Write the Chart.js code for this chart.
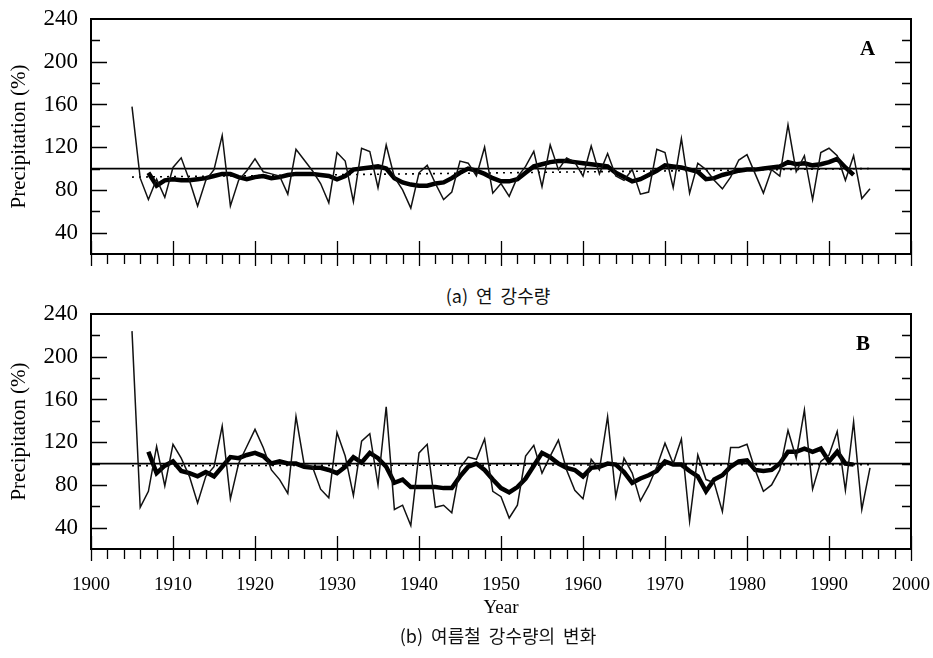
<!DOCTYPE html>
<html>
<head>
<meta charset="utf-8">
<script src="https://cdn.jsdelivr.net/npm/chart.js@4.4.1/dist/chart.umd.min.js"></script>
<style>
  html, body { margin: 0; padding: 0; background: #fff; }
  #wrap { position: relative; width: 933px; height: 658px; background: #fff; overflow: hidden; }
  canvas { position: absolute; left: 0; }
  .cap { position: absolute; left: 0; width: 996px; text-align: center; font-family: 'Noto Sans CJK KR', sans-serif; font-size: 18px; line-height: 24px; color: #111; word-spacing: 4px; }
  .lab { position: absolute; font-family: 'Liberation Serif', serif; font-weight: bold; font-size: 21px; line-height: 24px; color: #000; }
</style>
</head>
<body>
<div id="wrap">
  <canvas id="cA" width="933" height="270" style="top:0px"></canvas>
  <div class="lab" style="left:860px;top:36px">A</div>
  <div class="cap" style="top:283px">(a) 연 강수량</div>
  <canvas id="cB" width="933" height="345" style="top:290px"></canvas>
  <div class="lab" style="left:856px;top:331px">B</div>
  <div class="cap" style="top:623px">(b) 여름철 강수량의 변화</div>
</div>
<script>
// ---------- data ----------
const firstYear = 1905;       // first year of annual series
const firstAvgYear = 1907;    // first year of 5-year moving average
const xTicks = [1900, 2000];  // x axis range
const yRange = [20, 240];     // y axis range
const refLevel = 100;         // 100 % reference line

// (a) annual precipitation (%) 1905-1995
const annualA = [158, 91, 71, 90, 73, 101, 110, 89, 65, 89,
  99, 131, 65, 89, 98, 109, 97, 95, 93, 76,
  118, 108, 98, 86, 68, 115, 107, 69, 119, 116,
  82, 122, 92, 80, 63, 96, 103, 86, 71, 78,
  107, 105, 93, 120, 77, 86, 74, 92, 102, 116,
  83, 122, 99, 110, 106, 93, 121, 95, 114, 93,
  89, 99, 76, 78, 118, 115, 82, 128, 77, 105,
  99, 89, 81, 92, 108, 113, 95, 77, 99, 93,
  141, 97, 112, 71, 115, 119, 112, 89, 112, 72,
  81];
// (a) 5-year moving average 1907-1993
const avgA = [96, 84, 89, 90, 89, 89, 90, 91, 93, 95,
  95, 92, 90, 92, 93, 91, 92, 94, 95, 95,
  95, 94, 93, 90, 93, 99, 100, 101, 102, 100,
  91, 87, 85, 84, 84, 86, 87, 91, 96, 100,
  98, 95, 91, 88, 88, 90, 96, 102, 104, 106,
  107, 107, 106, 105, 104, 103, 102, 96, 92, 88,
  90, 94, 98, 103, 102, 101, 99, 97, 90, 91,
  94, 96, 98, 99, 99, 100, 101, 102, 106, 104,
  105, 103, 104, 106, 109, 101, 94];
// (a) linear trend end points [1905, 1995]
const trendA = [92, 100];

// (b) summer precipitation (%) 1905-1995
const annualB = [224, 59, 74, 116, 79, 118, 105, 88, 63, 88,
  97, 135, 67, 100, 116, 132, 115, 94, 85, 72,
  144, 99, 97, 76, 68, 129, 107, 70, 121, 128,
  80, 153, 57, 61, 42, 110, 118, 59, 61, 54,
  96, 106, 104, 123, 74, 69, 49, 61, 107, 117,
  91, 107, 122, 94, 75, 67, 104, 94, 144, 69,
  105, 91, 65, 79, 97, 119, 100, 123, 46, 108,
  85, 82, 55, 115, 115, 118, 94, 74, 80, 94,
  131, 105, 150, 76, 102, 108, 130, 75, 139, 57,
  96];
// (b) 5-year moving average 1907-1993
const avgB = [111, 91, 98, 102, 93, 91, 88, 92, 88, 97,
  106, 105, 108, 110, 107, 100, 102, 100, 100, 97,
  96, 96, 94, 91, 97, 106, 101, 110, 105, 97,
  82, 85, 78, 78, 78, 78, 77, 77, 88, 97,
  100, 94, 85, 77, 73, 78, 86, 98, 110, 106,
  100, 96, 94, 88, 96, 97, 100, 99, 92, 82,
  86, 89, 93, 102, 99, 99, 93, 88, 74, 85,
  89, 97, 102, 103, 94, 93, 94, 100, 111, 111,
  114, 111, 114, 102, 111, 100, 99];
// (b) linear trend end points [1905, 1995]
const trendB = [98, 99];
const trendYears = [1905, 1995];

// ---------- helpers ----------
const toPts = (arr, start) => arr.map((v, i) => ({ x: start + i, y: v }));

const frameTicks = {
  id: 'frameTicks',
  afterDatasetsDraw(chart) {
    const { ctx, chartArea: a, scales: { x, y } } = chart;
    ctx.save();
    ctx.strokeStyle = '#000';
    ctx.lineWidth = 2;
    ctx.strokeRect(a.left, a.top, a.right - a.left, a.bottom - a.top);
    ctx.lineWidth = 1.3;
    ctx.beginPath();
    y.ticks.forEach(t => {
      if (t.value <= y.min || t.value >= y.max) return;
      const py = Math.round(y.getPixelForValue(t.value)) + 0.5;
      const len = t.value % 40 === 0 ? 16 : 9;
      ctx.moveTo(a.left, py); ctx.lineTo(a.left + len, py);
      ctx.moveTo(a.right, py); ctx.lineTo(a.right - len, py);
    });
    x.ticks.forEach(t => {
      const px = Math.round(x.getPixelForValue(t.value)) + 0.5;
      const major = t.value % 10 === 0;
      ctx.moveTo(px, major ? a.bottom - 13 : a.bottom);
      ctx.lineTo(px, a.bottom + (major ? 12 : 10));
    });
    ctx.stroke();
    ctx.restore();
  }
};

function makeChart(id, annual, avg, trend, yTitle, showX, padTop, xHeight) {
  return new Chart(document.getElementById(id), {
    type: 'line',
    data: {
      datasets: [
        { data: toPts(annual, firstYear), borderColor: '#111', borderWidth: 1.5, pointRadius: 0, tension: 0 },
        { data: toPts(avg, firstAvgYear), borderColor: '#000', borderWidth: 4.5, pointRadius: 0, tension: 0 },
        { data: trendYears.map((yr, i) => ({ x: yr, y: trend[i] })), borderColor: '#000', borderWidth: 1.6, borderDash: [2, 5], pointRadius: 0 },
        { data: xTicks.map(yr => ({ x: yr, y: refLevel })), borderColor: '#000', borderWidth: 1.8, pointRadius: 0 }
      ]
    },
    options: {
      responsive: false,
      animation: false,
      devicePixelRatio: 1,
      layout: { padding: { top: padTop, right: 22, left: 0, bottom: 0 } },
      plugins: { legend: { display: false }, tooltip: { enabled: false } },
      scales: {
        x: {
          type: 'linear', min: xTicks[0], max: xTicks[1],
          grid: { display: false, drawTicks: false }, border: { display: false },
          ticks: {
            display: showX, stepSize: 2, autoSkip: false, maxRotation: 0, padding: 25,
            color: '#000', font: { family: 'Liberation Serif', size: 19 },
            callback: v => (v % 10 === 0 ? String(v) : '')
          },
          title: { display: showX, text: 'Year', color: '#000', font: { family: 'Liberation Serif', size: 19 }, padding: { top: 0, bottom: 16 } },
          afterFit: s => { s.height = xHeight; s.paddingLeft = 0; s.paddingRight = 0; }
        },
        y: {
          min: yRange[0], max: yRange[1],
          grid: { display: false, drawTicks: false }, border: { display: false },
          ticks: {
            stepSize: 20, padding: 13, color: '#000', autoSkip: false,
            font: { family: 'Liberation Serif', size: 23 },
            callback: v => (v % 40 === 0 ? String(v) : '')
          },
          title: { display: true, text: yTitle, color: '#000', font: { family: 'Liberation Serif', size: 21 }, padding: { top: 7, bottom: 0 } },
          afterFit: s => { s.width = 91; s.paddingTop = 0; s.paddingBottom = 0; }
        }
      }
    },
    plugins: [frameTicks]
  });
}

makeChart('cA', annualA, avgA, trendA, 'Precipitation (%)', false, 19, 16);
makeChart('cB', annualB, avgB, trendB, 'Precipitaton (%)', true, 24, 86);
</script>
</body>
</html>
